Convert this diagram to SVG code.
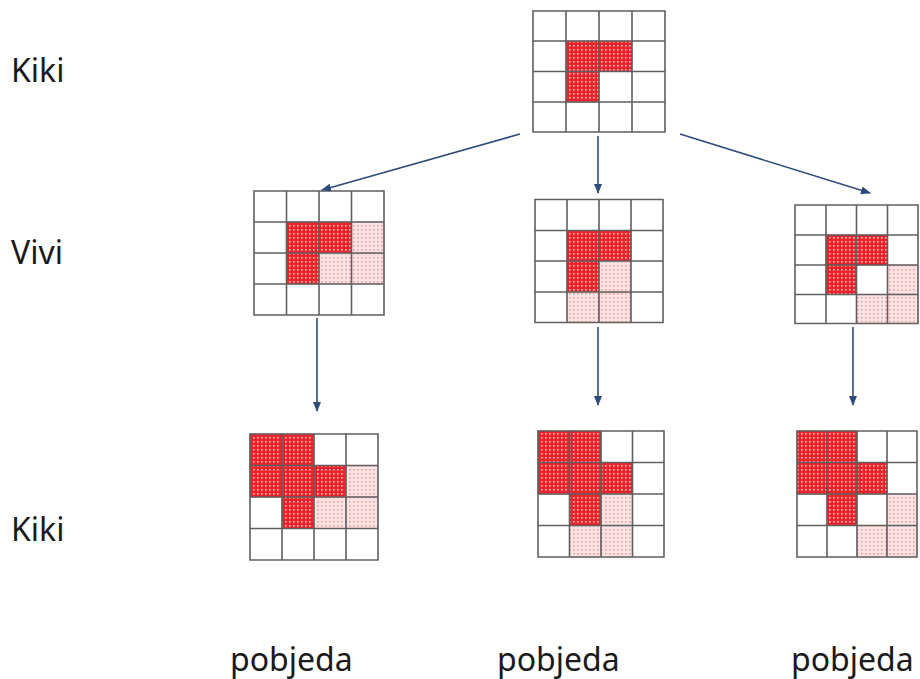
<svg xmlns="http://www.w3.org/2000/svg" width="920" height="679" viewBox="0 0 920 679">
<defs>
<pattern id="pd" width="4" height="4" patternUnits="userSpaceOnUse">
<rect width="4" height="4" fill="#ee2229"/>
<rect x="1" y="1" width="1.6" height="1.6" fill="#ffc8c8"/>
</pattern>
<pattern id="pl" width="4" height="4" patternUnits="userSpaceOnUse">
<rect width="4" height="4" fill="#fde4e4"/>
<rect x="1" y="1" width="1.6" height="1.6" fill="#f29c9c"/>
</pattern>
<marker id="ah" markerWidth="10" markerHeight="8" refX="9" refY="4" orient="auto" markerUnits="userSpaceOnUse">
<path d="M0,0 L10,4 L0,8 Z" fill="#2e4b7c"/>
</marker>
<style>
.d{fill:url(#pd);stroke:#c0141b;stroke-width:0.8;stroke-dasharray:1.5 1}
.l{fill:url(#pl);stroke:#eaa0a0;stroke-width:0.6;stroke-dasharray:1.5 1}
.g{fill:none;stroke:#5f5f5f;stroke-width:1.6}
.c{stroke:#2e4b7c;stroke-width:1.6;fill:none;marker-end:url(#ah)}
.t{font-family:"Noto Sans","Open Sans","DejaVu Sans",sans-serif;font-size:32px;fill:#1a1a1a}
</style>
</defs>
<rect width="920" height="679" fill="#fff"/>

<g id="labels">
<text class="t" x="11" y="82">Kiki</text>
<text class="t" x="11" y="264">Vivi</text>
<text class="t" x="11" y="541">Kiki</text>
<text class="t" x="230" y="671">pobjeda</text>
<text class="t" x="497" y="671">pobjeda</text>
<text class="t" x="791" y="671">pobjeda</text>
</g>

<g id="kiki-root">
<rect class="d" x="566" y="41" width="33" height="30.5"/>
<rect class="d" x="599" y="41" width="33" height="30.5"/>
<rect class="d" x="566" y="71.5" width="33" height="30.5"/>
<path class="g" d="M533,11H665V132H533Z M566,11V132 M599,11V132 M632,11V132 M533,41H665 M533,71.5H665 M533,102H665"/>
</g>

<g id="vivi-left">
<rect class="d" x="286.5" y="222" width="32.5" height="31"/>
<rect class="d" x="319" y="222" width="32.5" height="31"/>
<rect class="d" x="286.5" y="253" width="32.5" height="31"/>
<rect class="l" x="351.5" y="222" width="32.5" height="31"/>
<rect class="l" x="319" y="253" width="32.5" height="31"/>
<rect class="l" x="351.5" y="253" width="32.5" height="31"/>
<path class="g" d="M254,191H384V315H254Z M286.5,191V315 M319,191V315 M351.5,191V315 M254,222H384 M254,253H384 M254,284H384"/>
</g>

<g id="vivi-mid">
<rect class="d" x="567" y="230.5" width="32" height="30.5"/>
<rect class="d" x="599" y="230.5" width="32" height="30.5"/>
<rect class="d" x="567" y="261" width="32" height="31"/>
<rect class="l" x="599" y="261" width="32" height="31"/>
<rect class="l" x="567" y="292" width="32" height="30.5"/>
<rect class="l" x="599" y="292" width="32" height="30.5"/>
<path class="g" d="M535,199.5H663V322.5H535Z M567,199.5V322.5 M599,199.5V322.5 M631,199.5V322.5 M535,230.5H663 M535,261H663 M535,292H663"/>
</g>

<g id="vivi-right">
<rect class="d" x="826" y="235" width="30.5" height="30"/>
<rect class="d" x="856.5" y="235" width="31" height="30"/>
<rect class="d" x="826" y="265" width="30.5" height="29.5"/>
<rect class="l" x="887.5" y="265" width="30.5" height="29.5"/>
<rect class="l" x="856.5" y="294.5" width="31" height="29"/>
<rect class="l" x="887.5" y="294.5" width="30.5" height="29"/>
<path class="g" d="M795,205H918V323.5H795Z M826,205V323.5 M856.5,205V323.5 M887.5,205V323.5 M795,235H918 M795,265H918 M795,294.5H918"/>
</g>

<g id="kiki-left">
<rect class="d" x="250" y="434" width="32" height="31.5"/>
<rect class="d" x="282" y="434" width="32" height="31.5"/>
<rect class="d" x="250" y="465.5" width="32" height="31.5"/>
<rect class="d" x="282" y="465.5" width="32" height="31.5"/>
<rect class="d" x="314" y="465.5" width="32" height="31.5"/>
<rect class="d" x="282" y="497" width="32" height="31.5"/>
<rect class="l" x="346" y="465.5" width="32" height="31.5"/>
<rect class="l" x="314" y="497" width="32" height="31.5"/>
<rect class="l" x="346" y="497" width="32" height="31.5"/>
<path class="g" d="M250,434H378V560H250Z M282,434V560 M314,434V560 M346,434V560 M250,465.5H378 M250,497H378 M250,528.5H378"/>
</g>

<g id="kiki-mid">
<rect class="d" x="538" y="431" width="31.5" height="31.5"/>
<rect class="d" x="569.5" y="431" width="31.5" height="31.5"/>
<rect class="d" x="538" y="462.5" width="31.5" height="31.5"/>
<rect class="d" x="569.5" y="462.5" width="31.5" height="31.5"/>
<rect class="d" x="601" y="462.5" width="31.5" height="31.5"/>
<rect class="d" x="569.5" y="494" width="31.5" height="31.5"/>
<rect class="l" x="601" y="494" width="31.5" height="31.5"/>
<rect class="l" x="569.5" y="525.5" width="31.5" height="31.5"/>
<rect class="l" x="601" y="525.5" width="31.5" height="31.5"/>
<path class="g" d="M538,431H664V557H538Z M569.5,431V557 M601,431V557 M632.5,431V557 M538,462.5H664 M538,494H664 M538,525.5H664"/>
</g>

<g id="kiki-right">
<rect class="d" x="797" y="431" width="30" height="31.5"/>
<rect class="d" x="827" y="431" width="30" height="31.5"/>
<rect class="d" x="797" y="462.5" width="30" height="31.5"/>
<rect class="d" x="827" y="462.5" width="30" height="31.5"/>
<rect class="d" x="857" y="462.5" width="30" height="31.5"/>
<rect class="d" x="827" y="494" width="30" height="31.5"/>
<rect class="l" x="887" y="494" width="30" height="31.5"/>
<rect class="l" x="857" y="525.5" width="30" height="31.5"/>
<rect class="l" x="887" y="525.5" width="30" height="31.5"/>
<path class="g" d="M797,431H917V557H797Z M827,431V557 M857,431V557 M887,431V557 M797,462.5H917 M797,494H917 M797,525.5H917"/>
</g>

<g id="connectors">
<line class="c" x1="520" y1="134" x2="322" y2="190"/>
<line class="c" x1="598" y1="136" x2="598" y2="193"/>
<line class="c" x1="680" y1="134" x2="870" y2="193"/>
<line class="c" x1="317" y1="318" x2="317" y2="411"/>
<line class="c" x1="598" y1="327" x2="598" y2="405"/>
<line class="c" x1="853" y1="327" x2="853" y2="405"/>
</g>
</svg>
